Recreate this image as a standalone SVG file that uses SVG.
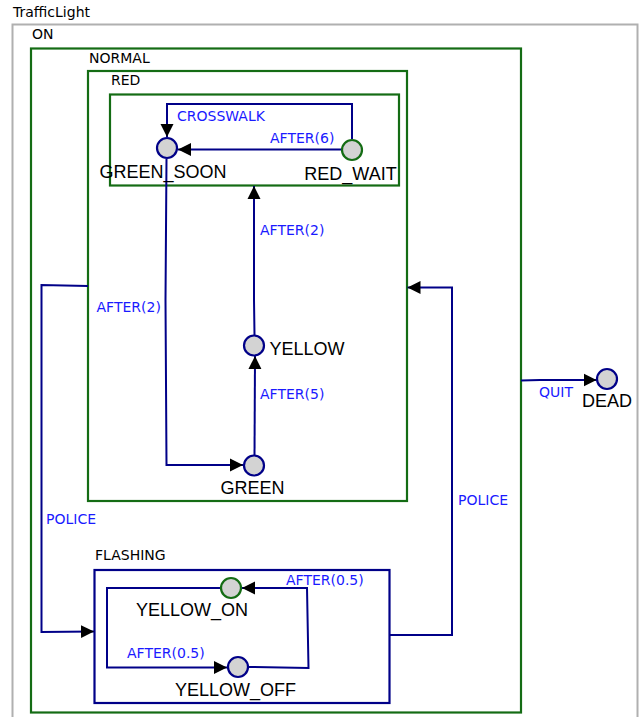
<svg xmlns="http://www.w3.org/2000/svg" width="639" height="717" viewBox="0 0 639 717">
<style>
.lbl{font-family:"DejaVu Sans",sans-serif;font-size:14px;fill:#000}
.st{font-family:"Liberation Sans",Arial,sans-serif;font-size:18px;fill:#000}
.tr{font-family:"DejaVu Sans",sans-serif;font-size:14px;fill:#1a1aff}
.gbox{fill:none;stroke:#146c14;stroke-width:2.2}
.bbox{fill:none;stroke:#000088;stroke-width:2.2}
.st-c{fill:#d3d3d3;stroke:#000088;stroke-width:2.2}
.st-i{fill:#d3d3d3;stroke:#146c14;stroke-width:2.2}
.edge{fill:none;stroke:#000088;stroke-width:2}
</style>
<defs>
<marker id="arr" markerUnits="userSpaceOnUse" markerWidth="14" markerHeight="14" refX="13" refY="7" orient="auto">
<path d="M0,0.5 L13,7 L0,13.5 Z" fill="#000"/>
</marker>
</defs>
<rect width="639" height="717" fill="#fff"/>

<g id="TrafficLight">
<rect x="12.5" y="24.5" width="625" height="710" fill="none" stroke="#b0b0b0" stroke-width="2"/>
<text class="lbl" x="13" y="16.5">TrafficLight</text>
</g>

<g id="ON">
<rect class="gbox" x="31" y="48.5" width="490" height="664"/>
<text class="lbl" x="32" y="39">ON</text>
</g>

<g id="NORMAL">
<rect class="gbox" x="88" y="71" width="319" height="430"/>
<text class="lbl" x="89" y="63">NORMAL</text>
</g>

<g id="RED">
<rect class="gbox" x="110" y="94.5" width="289" height="91"/>
<text class="lbl" x="111" y="85">RED</text>
</g>

<g id="FLASHING">
<rect class="bbox" x="94.5" y="570" width="295" height="133"/>
<text class="lbl" x="95" y="560">FLASHING</text>
</g>

<g id="edges">
<path class="edge" d="M352,139 V104 H167 V137" marker-end="url(#arr)"/>
<path class="edge" d="M341,149.5 H178" marker-end="url(#arr)"/>
<path class="edge" d="M166.5,159 L165.5,300 L166.5,465 H243" marker-end="url(#arr)"/>
<path class="edge" d="M254.5,455 L255,356" marker-end="url(#arr)"/>
<path class="edge" d="M254.5,335 L254,300 L254,186" marker-end="url(#arr)"/>
<path class="edge" d="M88,286 L41.5,285 V632 L94,631.5" marker-end="url(#arr)"/>
<path class="edge" d="M390,635 H452 V287.5 H407.5" marker-end="url(#arr)"/>
<path class="edge" d="M521,380.5 L540,380 H596.5" marker-end="url(#arr)"/>
<path class="edge" d="M220,588 H107 V667.5 H227" marker-end="url(#arr)"/>
<path class="edge" d="M249,667 L308.5,668 L307,588 H242" marker-end="url(#arr)"/>
<text class="tr" x="177" y="120.5">CROSSWALK</text>
<text class="tr" x="270" y="142.5">AFTER(6)</text>
<text class="tr" x="96.5" y="311.5">AFTER(2)</text>
<text class="tr" x="260" y="234.5">AFTER(2)</text>
<text class="tr" x="260" y="398.5">AFTER(5)</text>
<text class="tr" x="46" y="523.5">POLICE</text>
<text class="tr" x="458" y="505">POLICE</text>
<text class="tr" x="539" y="396.5">QUIT</text>
<text class="tr" x="127" y="657.5">AFTER(0.5)</text>
<text class="tr" x="286" y="584.5">AFTER(0.5)</text>
</g>

<g id="GREEN_SOON">
<circle class="st-c" cx="167" cy="148" r="10"/>
<text class="st" x="163" y="177.5" text-anchor="middle">GREEN_SOON</text>
</g>

<g id="RED_WAIT">
<circle class="st-i" cx="352" cy="150" r="10"/>
<text class="st" x="350.5" y="180" text-anchor="middle">RED_WAIT</text>
</g>

<g id="YELLOW">
<circle class="st-c" cx="254" cy="345.5" r="10"/>
<text class="st" x="269.5" y="354.5">YELLOW</text>
</g>

<g id="GREEN">
<circle class="st-c" cx="254" cy="465.5" r="10"/>
<text class="st" x="252.5" y="494" text-anchor="middle">GREEN</text>
</g>

<g id="DEAD">
<circle class="st-c" cx="607" cy="379" r="10"/>
<text class="st" x="607" y="407" text-anchor="middle">DEAD</text>
</g>

<g id="YELLOW_ON">
<circle class="st-i" cx="231" cy="588" r="10"/>
<text class="st" x="192" y="616" text-anchor="middle">YELLOW_ON</text>
</g>

<g id="YELLOW_OFF">
<circle class="st-c" cx="238" cy="667" r="10"/>
<text class="st" x="235.5" y="696" text-anchor="middle">YELLOW_OFF</text>
</g>
</svg>
